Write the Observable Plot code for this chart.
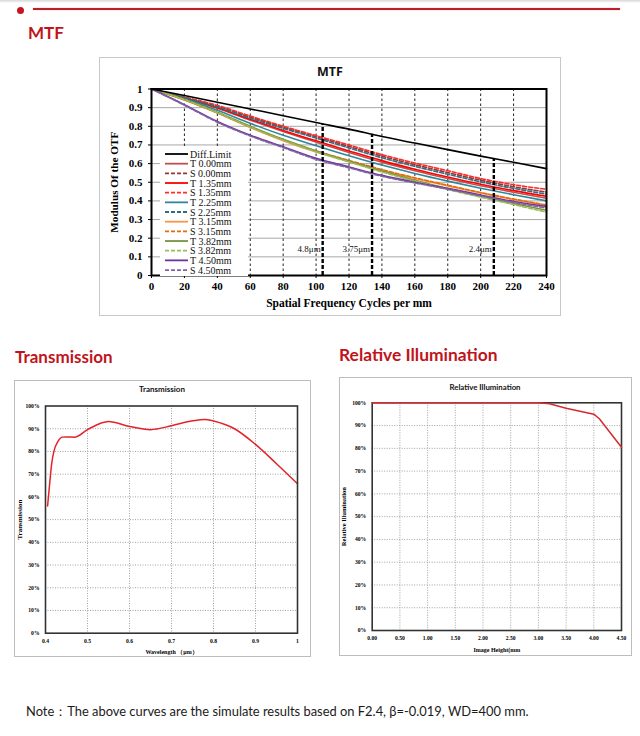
<!DOCTYPE html>
<html><head><meta charset="utf-8">
<script src="https://cdn.jsdelivr.net/npm/d3@7"></script>
<script src="https://cdn.jsdelivr.net/npm/@observablehq/plot@0.6"></script>
<style>
body{margin:0;background:#fff;}
#page{position:relative;width:640px;height:736px;overflow:hidden;background:#fff;font-family:Lato,sans-serif;}
.abs{position:absolute;}
.sec{position:absolute;color:#c0141c;font-weight:bold;font-size:17px;font-family:Lato,sans-serif;line-height:1;white-space:nowrap;}
.box{position:absolute;border:1px solid #c8c8c8;box-sizing:border-box;}
.ctitle{position:absolute;font-weight:bold;font-family:Lato,sans-serif;text-align:center;transform:translate(-50%,-50%);white-space:nowrap;line-height:1;color:#111;}
.chart{position:absolute;}
.chart svg{display:block;overflow:visible;}
</style></head><body><div id="page">
<div class="abs" style="left:0;top:0;width:640px;height:3px;background:linear-gradient(#d6d6d6,#fff);"></div>
<div class="abs" style="left:17px;top:6.5px;width:7px;height:7px;border-radius:50%;background:#c8141e;"></div>
<div class="abs" style="left:33px;top:8px;width:587px;height:2px;background:#b8202c;box-shadow:0 0 1.5px #f3a0a8;"></div>
<div class="sec" style="left:28px;top:24px;">MTF</div>
<div class="sec" style="left:15px;top:348px;">Transmission</div>
<div class="sec" style="left:339px;top:346px;font-size:17.4px;">Relative Illumination</div>
<div class="box" style="left:99px;top:57px;width:462px;height:259px;"></div>
<div class="box" style="left:14px;top:380px;width:297px;height:277px;border-color:#bdbdbd;"></div>
<div class="box" style="left:339px;top:377px;width:293px;height:279px;border-color:#bdbdbd;"></div>
<div class="ctitle" style="left:330px;top:72px;font-size:12.5px;font-family:'Open Sans',sans-serif;">MTF</div>
<div class="ctitle" style="left:162px;top:389px;font-size:8px;">Transmission</div>
<div class="ctitle" style="left:485px;top:388px;font-size:7.8px;">Relative Illumination</div>
<div id="mtf" class="chart" style="left:100px;top:57px;"></div>
<div id="mtfLegend" class="chart" style="left:160px;top:148px;"></div>
<div id="trans" class="chart" style="left:14px;top:381px;"></div>
<div id="ri" class="chart" style="left:339px;top:377px;"></div>
<div class="abs" style="left:26px;top:702.5px;font-family:Lato,sans-serif;font-size:12.9px;color:#1a1a1a;white-space:nowrap;">Note：The above curves are the simulate results based on F2.4, β=-0.019, WD=400 mm.</div>
</div>
<script>
// ---------- MTF data ----------
const freq = [0,20,40,60,80,100,120,140,160,180,200,220,240];
const diffLimit = [1.000,0.965,0.929,0.893,0.857,0.820,0.785,0.745,0.710,0.675,0.640,0.607,0.573];
const t000 = [1,0.951,0.897,0.833,0.772,0.715,0.660,0.608,0.562,0.520,0.481,0.446,0.414];
const s000 = [1,0.955,0.908,0.850,0.795,0.744,0.692,0.640,0.594,0.552,0.511,0.476,0.447];
const t135 = [1,0.952,0.900,0.838,0.778,0.722,0.668,0.616,0.570,0.528,0.489,0.455,0.425];
const s135 = [1,0.957,0.912,0.855,0.800,0.750,0.700,0.648,0.603,0.562,0.520,0.487,0.462];
const t225 = [1,0.947,0.886,0.816,0.752,0.696,0.642,0.592,0.547,0.506,0.468,0.433,0.400];
const s225 = [1,0.953,0.903,0.844,0.789,0.737,0.684,0.631,0.585,0.543,0.502,0.467,0.436];
const t315 = [1,0.941,0.871,0.793,0.723,0.662,0.611,0.563,0.520,0.480,0.442,0.407,0.375];
const s315 = [1,0.942,0.873,0.797,0.728,0.668,0.617,0.568,0.524,0.484,0.445,0.410,0.378];
const t382 = [1,0.944,0.876,0.800,0.730,0.668,0.613,0.560,0.511,0.466,0.425,0.386,0.350];
const s382 = [1,0.943,0.873,0.796,0.726,0.664,0.609,0.555,0.506,0.461,0.420,0.380,0.340];
const t450 = [1,0.916,0.826,0.752,0.690,0.628,0.582,0.537,0.500,0.467,0.432,0.397,0.370];
const s450 = [1,0.913,0.822,0.748,0.686,0.623,0.577,0.532,0.496,0.463,0.427,0.392,0.362];
const seriesNames = ["Diff.Limit","T 0.00mm","S 0.00mm","T 1.35mm","S 1.35mm","T 2.25mm","S 2.25mm","T 3.15mm","S 3.15mm","T 3.82mm","S 3.82mm","T 4.50mm","S 4.50mm"];
const seriesValues = [diffLimit,t000,s000,t135,s135,t225,s225,t315,s315,t382,s382,t450,s450];
const mtfYTicks = [0,0.1,0.2,0.3,0.4,0.5,0.6,0.7,0.8,0.9,1];
const pixelLabels = ["4.8μm","3.75μm","2.4μm"];
const nyquistFreq = [104,134,208];
const nyquistTop = [0.812,0.757,0.626];
const nyquistLabelY = [0.143,0.143,0.143];

// ---------- Transmission data ----------
const wavelength = [0.405,0.41,0.415,0.42,0.43,0.44,0.45,0.47,0.50,0.55,0.60,0.65,0.70,0.75,0.78,0.80,0.85,0.90,0.95,1.00];
const transmission = [56,66,75,80,84.5,86.3,86.4,86.3,89.6,93.2,91.0,89.6,91.3,93.5,94.1,93.4,90.0,83.1,74.6,65.8];
const transXTicks = [0.4,0.5,0.6,0.7,0.8,0.9,1];
const pctTicks = [0,10,20,30,40,50,60,70,80,90,100];

// ---------- Relative illumination data ----------
const imageHeight = [0,0.5,1.0,1.5,2.0,2.5,3.0,3.2,3.5,4.0,4.1,4.5];
const relIllum = [100,100,100,100,100,100,100,99.6,97.6,95.0,93.0,80.5];
const riXTicks = [0,0.5,1.0,1.5,2.0,2.5,3.0,3.5,4.0,4.5];

// ---------- styles ----------
const seriesColors = ["#000000","#c0504d","#953735","#ff0000","#ff2a2a","#31859c","#2b6f82","#f79646","#e46c0a","#77933c","#9bbb59","#7030a0","#8064a2"];
const seriesDashed = [false,false,true,false,true,false,true,false,true,false,true,false,true];

const mtfRows = seriesNames.flatMap((name,i)=>freq.map((f,j)=>({series:name,f,v:seriesValues[i][j]})));
const nyq = nyquistFreq.map((f,i)=>({f,top:nyquistTop[i],label:pixelLabels[i],ly:nyquistLabelY[i]}));
const serif = "'Liberation Serif','Times New Roman',serif";

const mtf = Plot.plot({
  width:460, height:259,
  marginLeft:51, marginRight:14, marginTop:31.5, marginBottom:41,
  style:{fontFamily:serif,fontSize:"11px",fontWeight:"bold",color:"#000",background:"transparent",overflow:"visible"},
  x:{domain:[0,240]},
  y:{domain:[0,1]},
  marks:[
    Plot.gridY(mtfYTicks.filter(d=>d>0&&d<1),{stroke:"#a8a8a8",strokeOpacity:1,strokeWidth:1}),
    Plot.gridX(freq.filter(d=>d>0&&d<240),{stroke:"#222",strokeOpacity:1,strokeDasharray:"2.5,2.5",strokeWidth:1}),
    ...seriesNames.map((name,i)=>Plot.line(mtfRows.filter(d=>d.series===name),{
      x:"f",y:"v",stroke:seriesColors[i],strokeWidth:1.6,
      strokeDasharray:seriesDashed[i]?"4,2":null,curve:"monotone-x"
    })).slice(1),
    Plot.line(mtfRows.filter(d=>d.series==="Diff.Limit"),{x:"f",y:"v",stroke:"#000",strokeWidth:1.6,curve:"monotone-x"}),
    Plot.ruleX(nyq,{x:"f",y1:0,y2:"top",stroke:"#000",strokeWidth:2.4,strokeDasharray:"4,2"}),
    Plot.text(nyq,{x:"f",y:"ly",text:"label",textAnchor:"end",dx:-2,fontSize:9,fontWeight:"normal",fill:"#111"}),
    Plot.frame({stroke:"#000",strokeWidth:2}),
    Plot.axisX({ticks:freq,tickSize:3,tickPadding:4,tickFormat:d=>String(d),label:null,fontSize:11,fontWeight:"bold"}),
    Plot.axisY({ticks:mtfYTicks,tickSize:3,tickPadding:6,tickFormat:d=>String(+d.toFixed(1)),label:null,fontSize:11,fontWeight:"bold"}),
    Plot.text(["Spatial Frequency Cycles per mm"],{frameAnchor:"bottom",dy:28,text:d=>d,fontSize:11.5,fontWeight:"bold",lineAnchor:"middle",textAnchor:"middle"}),
    Plot.text(["Modulus Of the OTF"],{frameAnchor:"left",dx:-37,rotate:-90,text:d=>d,fontSize:11.2,fontWeight:"bold",lineAnchor:"middle",textAnchor:"middle"})
  ]
});
document.getElementById("mtf").appendChild(mtf);

// legend
{
  const w=88,h=128;
  const svg=d3.select("#mtfLegend").append("svg").attr("width",w).attr("height",h);
  svg.append("rect").attr("width",w).attr("height",h).attr("fill","#fff");
  seriesNames.forEach((name,i)=>{
    const y=6+i*9.67;
    svg.append("line").attr("x1",5).attr("x2",28).attr("y1",y).attr("y2",y)
      .attr("stroke",seriesColors[i]).attr("stroke-width",1.8)
      .attr("stroke-dasharray",seriesDashed[i]?"4,2":null);
    svg.append("text").attr("x",30).attr("y",y).attr("dy","0.35em")
      .attr("font-family",serif).attr("font-size",10).attr("fill","#111").text(name);
  });
}

// transmission
const small = {fontFamily:serif,fontSize:"5.6px",fontWeight:"bold",color:"#000",background:"transparent",overflow:"visible"};
const trans = Plot.plot({
  width:297,height:276,
  marginLeft:31,marginRight:14,marginTop:24.5,marginBottom:24.3,
  style:small,
  x:{domain:[0.4,1]},
  y:{domain:[0,100]},
  marks:[
    Plot.gridX(transXTicks.filter(d=>d>0.4&&d<1),{stroke:"#8a8a8a",strokeOpacity:1,strokeDasharray:"1,1.5",strokeWidth:0.8}),
    Plot.gridY(pctTicks.filter(d=>d>0&&d<100),{stroke:"#8a8a8a",strokeOpacity:1,strokeDasharray:"1,1.5",strokeWidth:0.8}),
    Plot.line(wavelength.map((w,i)=>({w,t:transmission[i]})),{x:"w",y:"t",stroke:"#e3232b",strokeWidth:1.5,curve:"monotone-x"}),
    Plot.frame({stroke:"#333",strokeWidth:1.6}),
    Plot.axisX({ticks:transXTicks,tickSize:0,tickPadding:6,tickFormat:d=>String(+d.toFixed(1)),label:null}),
    Plot.axisY({ticks:pctTicks,tickSize:0,tickPadding:6,tickFormat:d=>d+"%",label:null}),
    Plot.text(["Wavelength （μm）"],{frameAnchor:"bottom",dy:19,text:d=>d,fontSize:6,fontWeight:"bold",lineAnchor:"middle",textAnchor:"middle"}),
    Plot.text(["Transmission"],{frameAnchor:"left",dx:-26,rotate:-90,text:d=>d,fontSize:7,fontWeight:"bold",lineAnchor:"middle",textAnchor:"middle"})
  ]
});
document.getElementById("trans").appendChild(trans);

// relative illumination
const ri = Plot.plot({
  width:293,height:279,
  marginLeft:32.7,marginRight:11,marginTop:25.3,marginBottom:26,
  style:small,
  x:{domain:[0,4.5]},
  y:{domain:[0,100]},
  marks:[
    Plot.gridX(riXTicks.filter(d=>d>0&&d<4.5),{stroke:"#8a8a8a",strokeOpacity:1,strokeDasharray:"1,1.5",strokeWidth:0.8}),
    Plot.gridY(pctTicks.filter(d=>d>0&&d<100),{stroke:"#8a8a8a",strokeOpacity:1,strokeDasharray:"1,1.5",strokeWidth:0.8}),
    Plot.frame({stroke:"#333",strokeWidth:1.6}),
    Plot.line(imageHeight.map((h,i)=>({h,r:relIllum[i]})),{x:"h",y:"r",stroke:"#d42a30",strokeWidth:1.5,curve:"linear"}),
    Plot.axisX({ticks:riXTicks,tickSize:0,tickPadding:6,tickFormat:d=>d.toFixed(2),label:null}),
    Plot.axisY({ticks:pctTicks,tickSize:0,tickPadding:6,tickFormat:d=>d+"%",label:null}),
    Plot.text(["Image Height(mm"],{frameAnchor:"bottom",dy:19.3,text:d=>d,fontSize:6,fontWeight:"bold",lineAnchor:"middle",textAnchor:"middle"}),
    Plot.text(["Relative Illumination"],{frameAnchor:"left",dx:-28,rotate:-90,text:d=>d,fontSize:6.5,fontWeight:"bold",lineAnchor:"middle",textAnchor:"middle"})
  ]
});
document.getElementById("ri").appendChild(ri);
</script>
</body></html>
